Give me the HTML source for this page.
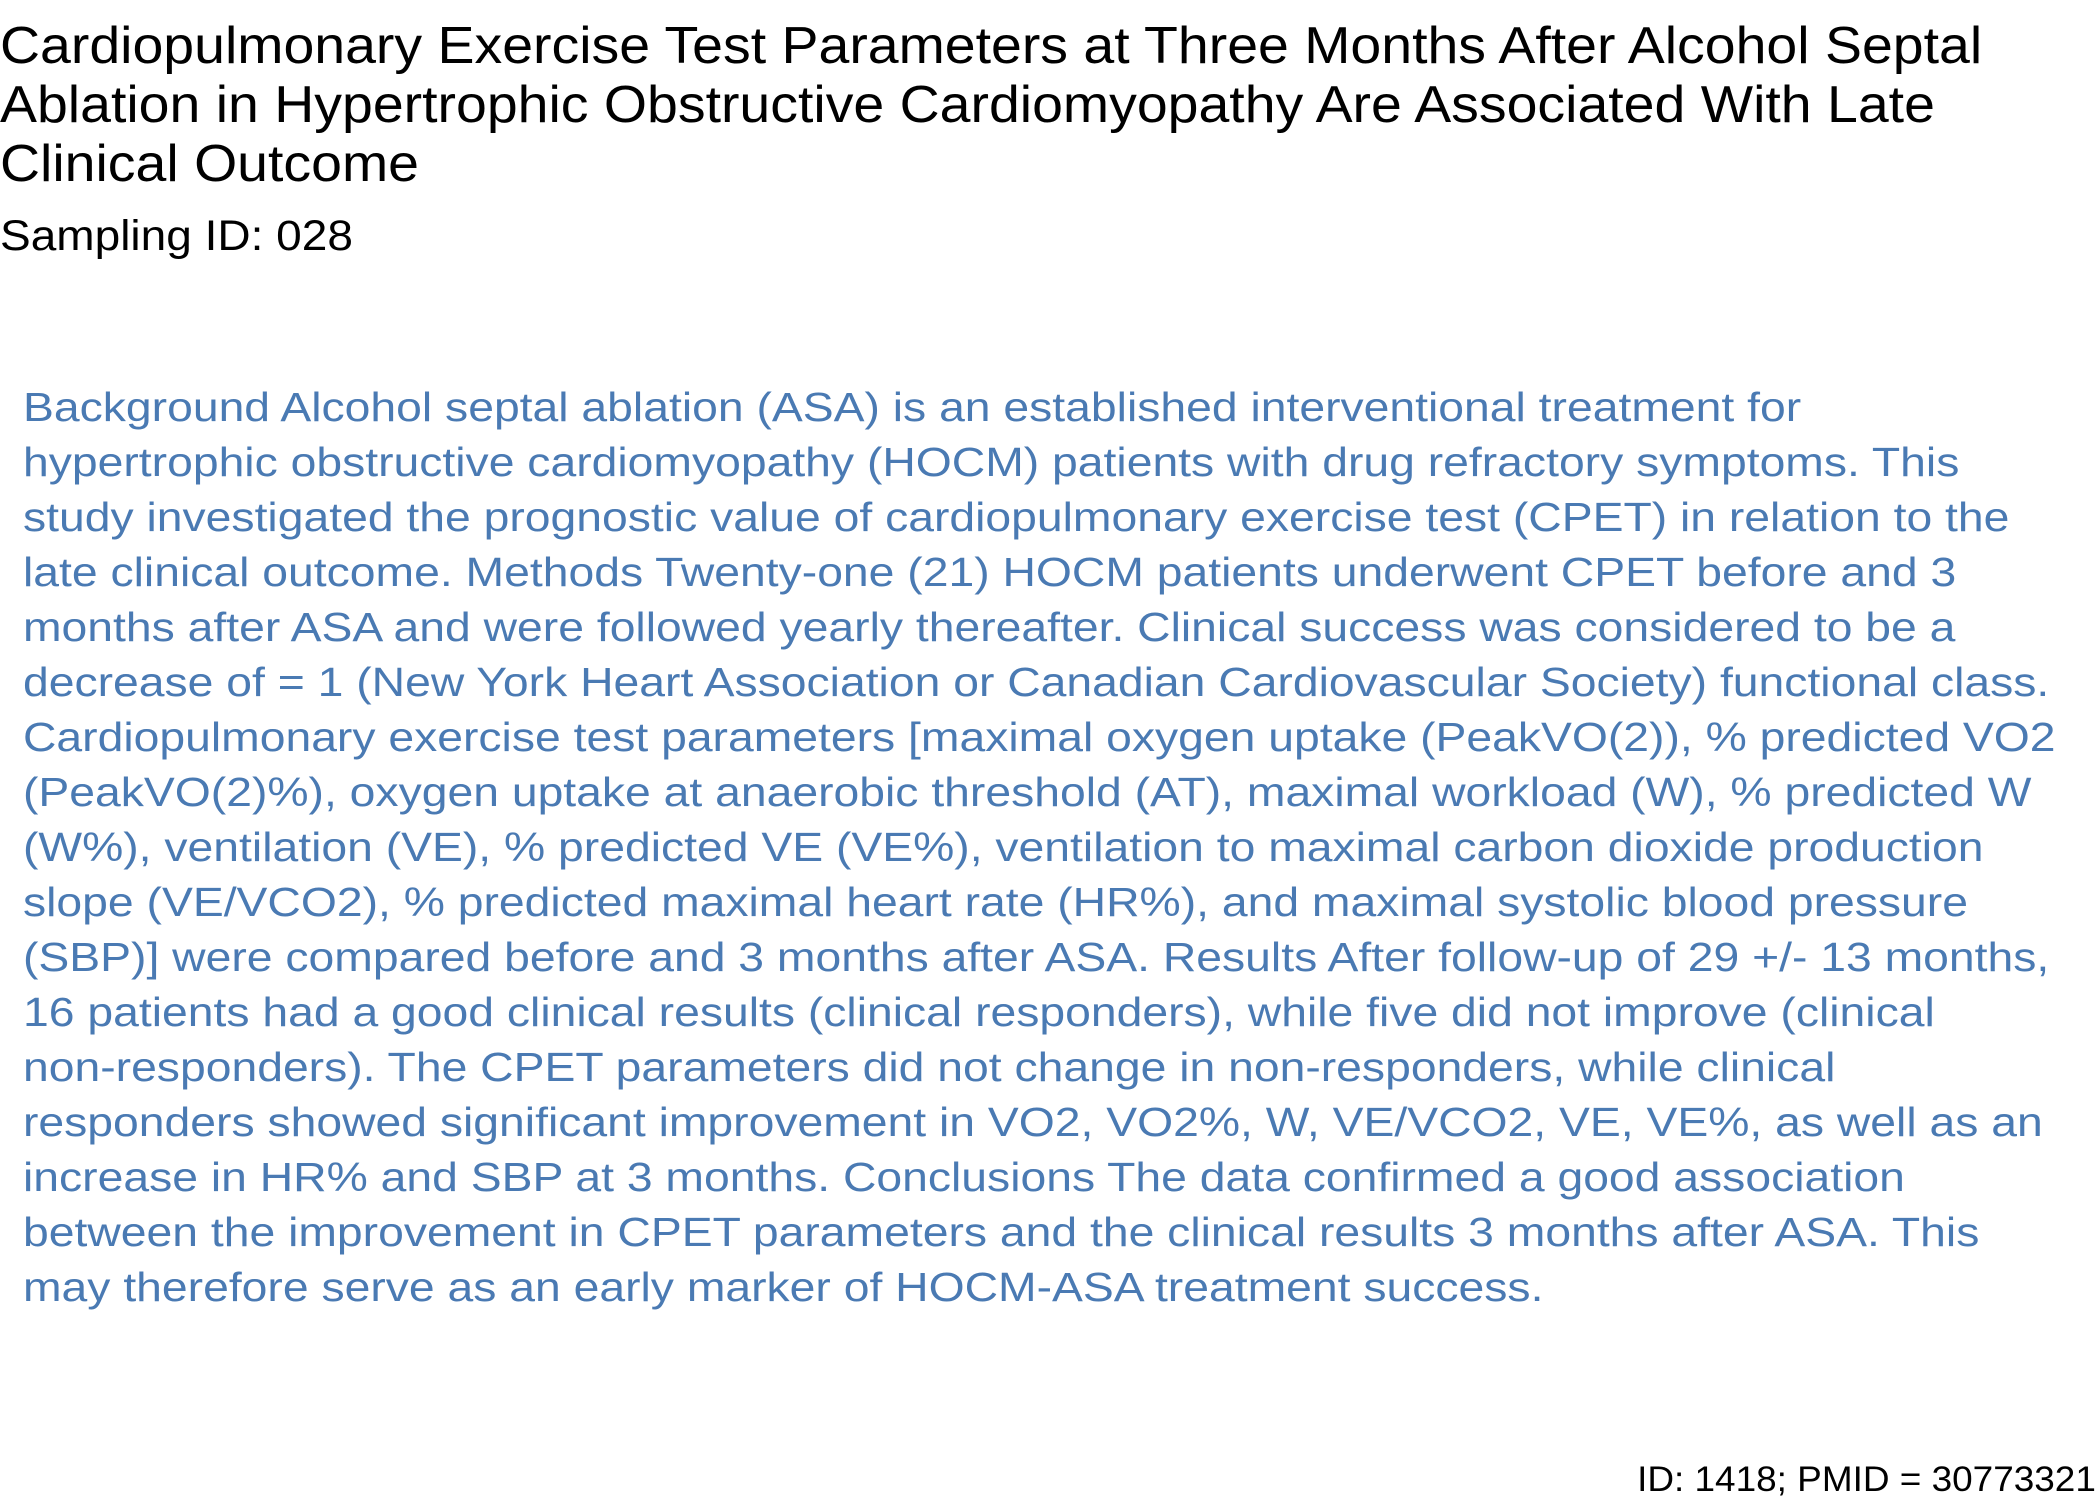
<!DOCTYPE html>
<html>
<head>
<meta charset="utf-8">
<style>
  html,body{margin:0;padding:0;background:#fff;}
  body{width:2100px;height:1500px;position:relative;overflow:hidden;font-family:"Liberation Sans",Arial,sans-serif;}
  .title{position:absolute;left:0;top:17px;font-size:52px;line-height:59px;color:#000;white-space:nowrap;transform:scaleX(1.066);transform-origin:0 0;}
  .sub{position:absolute;left:0;top:208px;font-size:43px;line-height:56px;color:#000;white-space:nowrap;transform:scaleX(1.07);transform-origin:0 0;}
  .abs{position:absolute;left:23px;top:380px;font-size:40.5px;line-height:55px;color:#4a7ab3;white-space:nowrap;transform:scaleX(1.143);transform-origin:0 0;}
  .foot{position:absolute;right:4px;top:1460px;font-size:35px;line-height:40px;color:#000;white-space:nowrap;transform:scaleX(1.055);transform-origin:100% 0;}
</style>
</head>
<body>
<div class="title">Cardiopulmonary Exercise Test Parameters at Three Months After Alcohol Septal<br>Ablation in Hypertrophic Obstructive Cardiomyopathy Are Associated With Late<br>Clinical Outcome</div>
<div class="sub">Sampling ID: 028</div>
<div class="abs">Background Alcohol septal ablation (ASA) is an established interventional treatment for<br>hypertrophic obstructive cardiomyopathy (HOCM) patients with drug refractory symptoms. This<br>study investigated the prognostic value of cardiopulmonary exercise test (CPET) in relation to the<br>late clinical outcome. Methods Twenty-one (21) HOCM patients underwent CPET before and 3<br>months after ASA and were followed yearly thereafter. Clinical success was considered to be a<br>decrease of = 1 (New York Heart Association or Canadian Cardiovascular Society) functional class.<br>Cardiopulmonary exercise test parameters [maximal oxygen uptake (PeakVO(2)), % predicted VO2<br>(PeakVO(2)%), oxygen uptake at anaerobic threshold (AT), maximal workload (W), % predicted W<br>(W%), ventilation (VE), % predicted VE (VE%), ventilation to maximal carbon dioxide production<br>slope (VE/VCO2), % predicted maximal heart rate (HR%), and maximal systolic blood pressure<br>(SBP)] were compared before and 3 months after ASA. Results After follow-up of 29 +/- 13 months,<br>16 patients had a good clinical results (clinical responders), while five did not improve (clinical<br>non-responders). The CPET parameters did not change in non-responders, while clinical<br>responders showed significant improvement in VO2, VO2%, W, VE/VCO2, VE, VE%, as well as an<br>increase in HR% and SBP at 3 months. Conclusions The data confirmed a good association<br>between the improvement in CPET parameters and the clinical results 3 months after ASA. This<br>may therefore serve as an early marker of HOCM-ASA treatment success.</div>
<div class="foot">ID: 1418; PMID = 30773321</div>
</body>
</html>
